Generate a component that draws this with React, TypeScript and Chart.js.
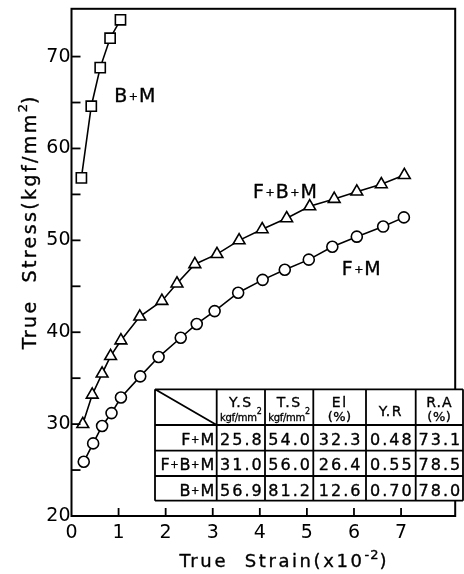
import React, { useEffect, useRef } from "react";
import { Chart, registerables } from "chart.js";

Chart.register(...registerables);

// ---- Data ----
const strainFM = [0.26, 0.46, 0.65, 0.85, 1.05, 1.46, 1.85, 2.32, 2.66, 3.04, 3.54, 4.06, 4.53, 5.04, 5.54, 6.06, 6.62, 7.06];
const stressFM = [25.9, 27.9, 29.8, 31.2, 32.9, 35.2, 37.3, 39.4, 40.9, 42.3, 44.3, 45.7, 46.8, 47.9, 49.3, 50.4, 51.5, 52.5];

const strainFBM = [0.24, 0.44, 0.65, 0.83, 1.05, 1.45, 1.92, 2.24, 2.62, 3.09, 3.56, 4.05, 4.57, 5.06, 5.58, 6.06, 6.58, 7.07];
const stressFBM = [30.0, 33.2, 35.5, 37.4, 39.1, 41.7, 43.4, 45.3, 47.4, 48.5, 50.0, 51.2, 52.4, 53.7, 54.5, 55.3, 56.1, 57.1];

const strainBM = [0.21, 0.42, 0.61, 0.82, 1.04];
const stressBM = [56.8, 64.6, 68.8, 72.0, 74.0];

const xTickValues = [0, 1, 2, 3, 4, 5, 6, 7];
const yLabelValues = [20, 30, 40, 50, 60, 70];
const yMinorTicks = [25, 35, 45, 55, 65];

const curveLabels = ["B+M", "F+B+M", "F+M"];
const curveLabelX = [1.36, 4.55, 6.17];
const curveLabelY = [65.8, 55.4, 47.0];

const tableRowNames = ["F+M", "F+B+M", "B+M"];
const colYS = ["25.8", "31.0", "56.9"];
const colTS = ["54.0", "56.0", "81.2"];
const colEl = ["32.3", "26.4", "12.6"];
const colYR = ["0.48", "0.55", "0.70"];
const colRA = ["73.1", "78.5", "78.0"];

const FONT = '"DejaVu Sans"';

type Piece = { t: string; size: number; dy?: number; ls?: number };

function measurePieces(ctx: CanvasRenderingContext2D, pieces: Piece[]) {
  return pieces.map((p) => {
    ctx.font = `${p.size}px ${FONT}`;
    (ctx as any).letterSpacing = `${p.ls || 0}px`;
    return ctx.measureText(p.t).width;
  });
}

function drawPieces(
  ctx: CanvasRenderingContext2D,
  pieces: Piece[],
  x: number,
  y: number,
  align: "center" | "left" | "right",
  heavy = 0.35
) {
  const widths = measurePieces(ctx, pieces);
  const total = widths.reduce((a, b) => a + b, 0);
  let cx = align === "center" ? x - total / 2 : align === "right" ? x - total : x;
  ctx.textAlign = "left";
  ctx.textBaseline = "alphabetic";
  ctx.lineJoin = "round";
  pieces.forEach((p, i) => {
    ctx.font = `${p.size}px ${FONT}`;
    (ctx as any).letterSpacing = `${p.ls || 0}px`;
    ctx.fillText(p.t, cx, y + (p.dy || 0));
    if (heavy > 0) {
      ctx.lineWidth = heavy;
      ctx.strokeText(p.t, cx, y + (p.dy || 0));
    }
    cx += widths[i];
  });
  (ctx as any).letterSpacing = "0px";
}

function labelPieces(name: string, size: number, plusSize: number, ls: number): Piece[] {
  const parts: Piece[] = [];
  name.split("+").forEach((s, i) => {
    if (i > 0) parts.push({ t: "+", size: plusSize, dy: -2, ls: 1 });
    parts.push({ t: s, size, ls });
  });
  return parts;
}

const decorPlugin = {
  id: "decor",
  afterDraw(chart: any) {
    const ctx: CanvasRenderingContext2D = chart.ctx;
    const { left, right, top, bottom } = chart.chartArea;
    const xs = chart.scales.x;
    const ys = chart.scales.y;
    ctx.save();
    ctx.strokeStyle = "#000";
    ctx.fillStyle = "#000";
    ctx.lineWidth = 2;
    // frame
    ctx.strokeRect(left, top, right - left, bottom - top);
    // inside ticks
    ctx.lineWidth = 1.8;
    [...yLabelValues, ...yMinorTicks].forEach((v) => {
      if (v <= 20) return;
      const py = ys.getPixelForValue(v);
      ctx.beginPath();
      ctx.moveTo(left, py);
      ctx.lineTo(left + 9, py);
      ctx.stroke();
    });
    xTickValues.forEach((v) => {
      if (v === 0) return;
      const px = xs.getPixelForValue(v);
      ctx.beginPath();
      ctx.moveTo(px, bottom);
      ctx.lineTo(px, bottom - 8);
      ctx.stroke();
    });

    // curve labels
    curveLabels.forEach((name, i) => {
      const px = xs.getPixelForValue(curveLabelX[i]);
      const py = ys.getPixelForValue(curveLabelY[i]);
      drawPieces(ctx, labelPieces(name, 19, 11, 1.5), px, py + 7, "center");
    });

    // axis titles
    drawPieces(
      ctx,
      [
        { t: "True  Strain(x10", size: 18, ls: 2.6 },
        { t: "-2", size: 13, dy: -8, ls: 1 },
        { t: ")", size: 18, ls: 0 },
      ],
      283,
      567,
      "center"
    );
    ctx.save();
    ctx.translate(36, 223);
    ctx.rotate(-Math.PI / 2);
    drawPieces(
      ctx,
      [
        { t: "True  Stress(kgf/mm", size: 19, ls: 2.4 },
        { t: "2", size: 13, dy: -9, ls: 0 },
        { t: ")", size: 19, ls: 0 },
      ],
      0,
      0,
      "center"
    );
    ctx.restore();

    // table
    const cols = [155, 216.7, 265, 313.3, 366, 415.7, 463];
    const rows = [389.3, 425, 450.7, 476, 500.7];
    ctx.fillStyle = "#fff";
    ctx.fillRect(cols[0], rows[0], cols[cols.length - 1] - cols[0], rows[rows.length - 1] - rows[0]);
    ctx.fillStyle = "#000";
    ctx.lineWidth = 1.8;
    ctx.beginPath();
    cols.forEach((cx) => {
      ctx.moveTo(cx, rows[0]);
      ctx.lineTo(cx, rows[rows.length - 1]);
    });
    rows.forEach((ry) => {
      ctx.moveTo(cols[0], ry);
      ctx.lineTo(cols[cols.length - 1], ry);
    });
    ctx.moveTo(cols[0], rows[0]);
    ctx.lineTo(cols[1], rows[1]);
    ctx.stroke();

    const mid = (i: number) => (cols[i] + cols[i + 1]) / 2;
    // header
    drawPieces(ctx, [{ t: "Y.S", size: 14, ls: 1.5 }], mid(1), 407, "center");
    drawPieces(ctx, [{ t: "kgf/mm", size: 10, ls: -0.3 }, { t: "2", size: 8, dy: -7 }], mid(1), 421, "center", 0.3);
    drawPieces(ctx, [{ t: "T.S", size: 14, ls: 1.5 }], mid(2), 407, "center");
    drawPieces(ctx, [{ t: "kgf/mm", size: 10, ls: -0.3 }, { t: "2", size: 8, dy: -7 }], mid(2), 421, "center", 0.3);
    drawPieces(ctx, [{ t: "El", size: 14, ls: 1.5 }], mid(3), 407, "center");
    drawPieces(ctx, [{ t: "(%)", size: 13, ls: 0.5 }], mid(3), 421, "center");
    drawPieces(ctx, [{ t: "Y.R", size: 14, ls: 1.5 }], mid(4), 416, "center");
    drawPieces(ctx, [{ t: "R.A", size: 14, ls: 1 }], mid(5), 407, "center");
    drawPieces(ctx, [{ t: "(%)", size: 13, ls: 0.5 }], mid(5), 421, "center");

    const colsData = [colYS, colTS, colEl, colYR, colRA];
    tableRowNames.forEach((name, r) => {
      const base = rows[r + 1] + 19.5;
      drawPieces(ctx, labelPieces(name, 16, 10, 0.5), cols[1] - 2, base, "right");
      colsData.forEach((col, c) => {
        drawPieces(ctx, [{ t: col[r], size: 16, ls: 2 }], mid(c + 1) + 1, base, "center");
      });
    });

    ctx.restore();
  },
};

export default function App() {
  const ref = useRef<HTMLCanvasElement | null>(null);
  useEffect(() => {
    if (!ref.current) return;
    const mk = (xs: number[], ys: number[]) => xs.map((x, i) => ({ x, y: ys[i] }));
    const common = {
      showLine: true,
      borderColor: "#000",
      borderWidth: 1.6,
      pointBackgroundColor: "#fff",
      pointBorderColor: "#000",
      pointBorderWidth: 1.6,
      tension: 0,
    };
    const chart = new Chart(ref.current, {
      type: "scatter",
      data: {
        datasets: [
          { ...common, label: "F+M", data: mk(strainFM, stressFM), pointStyle: "circle", pointRadius: 5.5 },
          { ...common, label: "F+B+M", data: mk(strainFBM, stressFBM), pointStyle: "triangle", pointRadius: 6.8 },
          { ...common, label: "B+M", data: mk(strainBM, stressBM), pointStyle: "rect", pointRadius: 7.2 },
        ],
      } as any,
      options: {
        animation: false,
        responsive: true,
        maintainAspectRatio: false,
        layout: { padding: { left: 0, top: 7, right: 3, bottom: 0 } },
        plugins: { legend: { display: false }, tooltip: { enabled: false } },
        scales: {
          x: {
            type: "linear",
            min: 0,
            max: 8.15,
            grid: { display: false, drawTicks: false },
            border: { display: false },
            ticks: {
              stepSize: 1,
              padding: 6,
              color: "#000",
              font: { family: "DejaVu Sans", size: 19 },
              maxRotation: 0,
              callback: (v: any) => (xTickValues.includes(v) ? String(v) : ""),
            },
            afterFit: (s: any) => {
              s.height = 58;
              s.paddingLeft = 0;
              s.paddingRight = 0;
            },
          },
          y: {
            type: "linear",
            min: 20,
            max: 75.2,
            grid: { display: false, drawTicks: false },
            border: { display: false },
            ticks: {
              stepSize: 5,
              padding: 1,
              color: "#000",
              font: { family: "DejaVu Sans", size: 19 },
              callback: (v: any) => (yLabelValues.includes(v) ? String(v) : ""),
            },
            afterFit: (s: any) => {
              s.width = 71.5;
              s.paddingTop = 0;
              s.paddingBottom = 0;
            },
          },
        },
      } as any,
      plugins: [decorPlugin],
    });
    return () => chart.destroy();
  }, []);
  return (
    <div style={{ position: "fixed", left: 0, top: 0, width: 464, height: 574, background: "#fff" }}>
      <canvas ref={ref} />
    </div>
  );
}
